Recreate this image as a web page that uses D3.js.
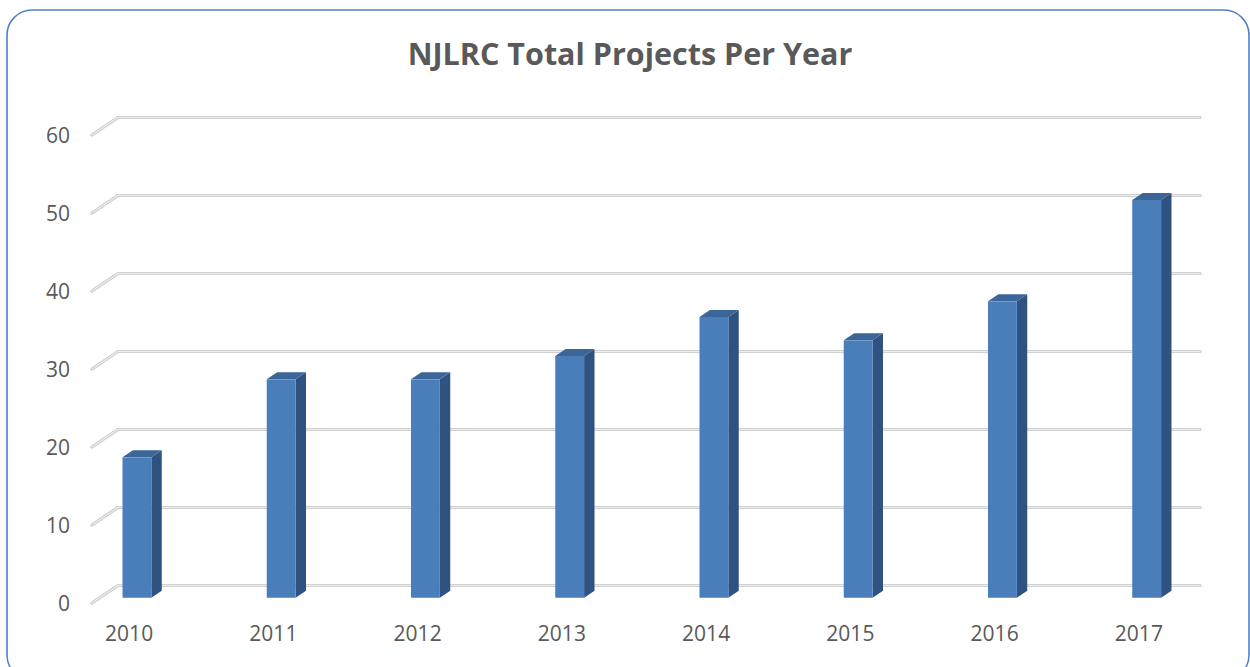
<!DOCTYPE html>
<html>
<head>
<meta charset="utf-8">
<script src="https://cdn.jsdelivr.net/npm/d3@7"></script>
<style>
  body { margin: 0; background: #fff; }
  text { font-family: "Open Sans", "Liberation Sans", sans-serif; }
</style>
</head>
<body>
<div id="chart"></div>
<script>
const WIDTH = 1250;
const HEIGHT = 667;

// datos del grafico
const years = ["2010", "2011", "2012", "2013", "2014", "2015", "2016", "2017"];
const projects = [18, 28, 28, 31, 36, 33, 38, 51];
const yTicks = [0, 10, 20, 30, 40, 50, 60];

// profundidad 3D (pared de fondo respecto al plano frontal)
const DX = 26, DY = -17.5;
const barFront = 0.3, barBack = 0.7;

const svg = d3.select("#chart")
    .append("svg")
    .attr("width", WIDTH)
    .attr("height", HEIGHT);

// marco redondeado
svg.append("rect")
    .attr("x", 7).attr("y", 10)
    .attr("width", 1242).attr("height", 670)
    .attr("rx", 25).attr("ry", 25)
    .attr("fill", "#fff")
    .attr("stroke", "#4f81c7")
    .attr("stroke-width", 1.6);

svg.append("text")
    .attr("x", 630).attr("y", 65)
    .attr("text-anchor", "middle")
    .attr("font-size", 30.5)
    .attr("font-weight", "bold")
    .attr("fill", "#595959")
    .text("NJLRC Total Projects Per Year");

// escala en el plano frontal
const y = d3.scaleLinear().domain([0, 60]).range([603, 135]);
const x = d3.scaleBand().domain(years).range([57, 1211])
    .paddingInner(0.8).paddingOuter(0.4);

const frontLeft = 92, frontRight = 1174;

// lineas de la grilla
const grid = svg.append("g");
yTicks.forEach(function(t) {
    const pts = [[frontLeft, y(t)], [frontLeft + DX, y(t) + DY], [frontRight + DX, y(t) + DY]];
    grid.append("path")
        .attr("d", d3.line()(pts))
        .attr("fill", "none")
        .attr("stroke", "#c8c8c8")
        .attr("stroke-width", 3.2)
        .attr("stroke-linecap", "round");
    grid.append("path")
        .attr("d", d3.line()(pts))
        .attr("fill", "none")
        .attr("stroke", "#ececec")
        .attr("stroke-width", 1.3)
        .attr("stroke-linecap", "round");
});

// etiquetas eje y
svg.append("g").selectAll("text")
    .data(yTicks)
    .enter().append("text")
    .attr("x", 70)
    .attr("y", function(d) { return y(d); })
    .attr("dy", "0.36em")
    .attr("text-anchor", "end")
    .attr("font-size", 21)
    .attr("fill", "#595959")
    .text(function(d) { return d; });

// barras 3D
const bars = svg.append("g").selectAll("g")
    .data(years.map(function(yr, i) { return { year: yr, value: projects[i] }; }))
    .enter().append("g");

const sdx = DX * (barBack - barFront), sdy = DY * (barBack - barFront);
function fx(d) { return x(d.year) + DX * barFront; }
function fy0() { return y(0) + DY * barFront; }
function fy1(d) { return y(d.value) + DY * barFront; }

bars.append("path")
    .attr("fill", "#2f5280")
    .attr("d", function(d) {
        const x1 = fx(d) + x.bandwidth();
        return d3.line()([[x1, fy1(d)], [x1 + sdx, fy1(d) + sdy], [x1 + sdx, fy0() + sdy], [x1, fy0()]]) + "Z";
    });

bars.append("path")
    .attr("fill", "#3c6598")
    .attr("d", function(d) {
        const x0 = fx(d), x1 = x0 + x.bandwidth();
        return d3.line()([[x0, fy1(d)], [x0 + sdx, fy1(d) + sdy], [x1 + sdx, fy1(d) + sdy], [x1, fy1(d)]]) + "Z";
    });

bars.append("rect")
    .attr("x", fx)
    .attr("y", fy1)
    .attr("width", x.bandwidth())
    .attr("height", function(d) { return fy0() - fy1(d); })
    .attr("fill", "#4a7ebb");

// etiquetas eje x
svg.append("g").selectAll("text")
    .data(years)
    .enter().append("text")
    .attr("x", function(d) { return x(d) + x.bandwidth() / 2; })
    .attr("y", 641)
    .attr("text-anchor", "middle")
    .attr("font-size", 21)
    .attr("fill", "#595959")
    .text(function(d) { return d; });
</script>
</body>
</html>
